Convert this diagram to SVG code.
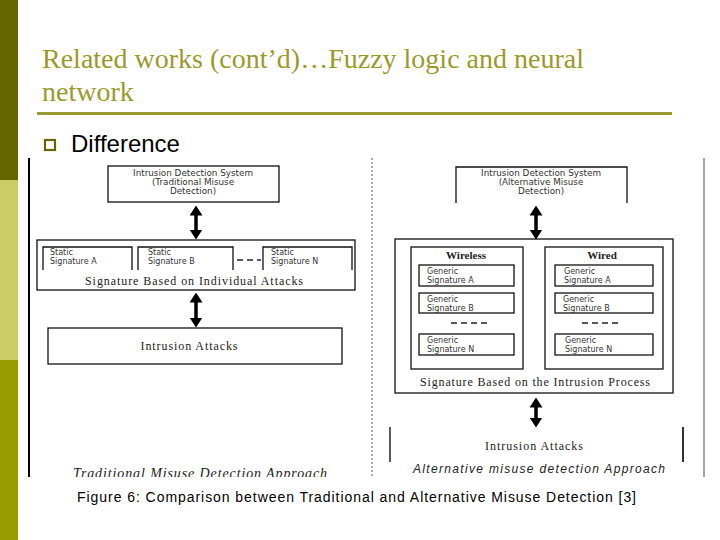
<svg xmlns="http://www.w3.org/2000/svg" width="720" height="540" viewBox="0 0 720 540">
<style>
.box{fill:none;stroke:#111;stroke-width:1.3}
.sm{font-family:"DejaVu Sans",Verdana,sans-serif;font-size:8.8px;fill:#333}
.sg{font-family:"DejaVu Sans",Verdana,sans-serif;font-size:8px;fill:#333}
.sr{font-family:"Liberation Serif","Times New Roman",serif;font-size:12px;fill:#222}
.bd{font-family:"Liberation Serif","Times New Roman",serif;font-size:11px;font-weight:bold;fill:#222}
.ttl{font-family:"Liberation Serif","Times New Roman",serif;font-size:28px;fill:#9a9a2a}
.arr{stroke:#000;stroke-width:3.5;marker-start:url(#ah);marker-end:url(#ah)}
.dash{stroke:#222;stroke-width:1.5;stroke-dasharray:6,4}
</style>
<defs>
<marker id="ah" markerUnits="userSpaceOnUse" markerWidth="10" markerHeight="13" refX="0.5" refY="6.5" orient="auto-start-reverse" viewBox="0 0 10 13">
<path d="M0,0 L10,6.5 L0,13 z" fill="#000"/>
</marker>
<clipPath id="pic"><rect x="20" y="155" width="700" height="322"/></clipPath>
</defs>
<rect width="720" height="540" fill="#fff"/>
<g id="sidebar">
<rect x="0" y="0" width="18" height="180" fill="#666600"/>
<rect x="0" y="180" width="18" height="180" fill="#cccc66"/>
<rect x="0" y="360" width="18" height="180" fill="#999900"/>
</g>
<g id="title">
<text class="ttl" x="42" y="68">Related works (cont’d)…Fuzzy logic and neural</text>
<text class="ttl" x="42" y="101">network</text>
<rect x="37" y="112" width="635" height="3" fill="#9a9a32"/>
</g>
<g id="bullet">
<rect x="45" y="140" width="10" height="10" fill="none" stroke="#666600" stroke-width="2.2"/>
<text x="71" y="152" font-family="Liberation Sans,Arial,sans-serif" font-size="24" fill="#000">Difference</text>
</g>
<g id="figure" clip-path="url(#pic)">
<g id="frame">
<line x1="29" y1="158" x2="29" y2="480" stroke="#000" stroke-width="2"/>
<line x1="704" y1="158" x2="704" y2="480" stroke="#888" stroke-width="1.5"/>
<line x1="372" y1="158" x2="372" y2="480" stroke="#555" stroke-width="1" stroke-dasharray="2,2"/>
</g>
<g id="ids-traditional">
<rect class="box" x="108" y="166" width="171" height="36"/>
<text class="sm" text-anchor="middle" x="193" y="176">Intrusion Detection System</text>
<text class="sm" text-anchor="middle" x="193" y="185">(Traditional Misuse</text>
<text class="sm" text-anchor="middle" x="193" y="194">Detection)</text>
</g>
<g id="sig-individual">
<rect class="box" x="37" y="240" width="318" height="50"/>
<path class="box" d="M43,270 V247 H132 V270 M138,270 V247 H233 V270 M263,270 V247 H352 V270"/>
<line class="dash" x1="237" y1="260" x2="261" y2="260" stroke-dasharray="5,3"/>
<text class="sg" x="50" y="255">Static</text>
<text class="sg" x="50" y="264">Signature A</text>
<text class="sg" x="148" y="255">Static</text>
<text class="sg" x="148" y="264">Signature B</text>
<text class="sg" x="271" y="255">Static</text>
<text class="sg" x="271" y="264">Signature N</text>
<text class="sr" text-anchor="middle" x="194" y="285" textLength="218">Signature Based on Individual Attacks</text>
</g>
<g id="attacks-traditional">
<rect class="box" x="48" y="328" width="294" height="36"/>
<text class="sr" text-anchor="middle" x="189" y="350" font-size="11" textLength="97">Intrusion Attacks</text>
</g>
<g id="caption-traditional">
<text x="200" y="478" text-anchor="middle" font-family="Liberation Serif,serif" font-style="italic" font-size="14" fill="#222" textLength="254">Traditional Misuse Detection Approach</text>
</g>
<g id="ids-alternative">
<path class="box" d="M456,203 V167 H627 V203"/>
<text class="sm" text-anchor="middle" x="541" y="176">Intrusion Detection System</text>
<text class="sm" text-anchor="middle" x="541" y="185">(Alternative Misuse</text>
<text class="sm" text-anchor="middle" x="541" y="194">Detection)</text>
</g>
<g id="sig-process">
<rect class="box" x="395" y="239" width="278" height="154"/>
<text class="sr" text-anchor="middle" x="535" y="386" textLength="230">Signature Based on the Intrusion Process</text>
</g>
<g id="wireless">
<rect class="box" x="411" y="247" width="112" height="122"/>
<text class="bd" text-anchor="middle" x="466" y="259">Wireless</text>
<rect class="box" x="419" y="265" width="95" height="21"/>
<text class="sg" x="427" y="273.5">Generic</text>
<text class="sg" x="427" y="282.5">Signature A</text>
<rect class="box" x="419" y="293" width="95" height="20"/>
<text class="sg" x="427" y="301.5">Generic</text>
<text class="sg" x="427" y="310.5">Signature B</text>
<line class="dash" x1="451" y1="323" x2="488" y2="323"/>
<rect class="box" x="419" y="334" width="95" height="21"/>
<text class="sg" x="427" y="343">Generic</text>
<text class="sg" x="427" y="352">Signature N</text>
</g>
<g id="wired">
<rect class="box" x="545" y="247" width="118" height="122"/>
<text class="bd" text-anchor="middle" x="602" y="259">Wired</text>
<rect class="box" x="555" y="265" width="98" height="21"/>
<text class="sg" x="564" y="273.5">Generic</text>
<text class="sg" x="564" y="282.5">Signature A</text>
<rect class="box" x="555" y="293" width="98" height="20"/>
<text class="sg" x="563" y="301.5">Generic</text>
<text class="sg" x="563" y="310.5">Signature B</text>
<line class="dash" x1="582" y1="323" x2="619" y2="323"/>
<rect class="box" x="555" y="334" width="98" height="21"/>
<text class="sg" x="565" y="343">Generic</text>
<text class="sg" x="565" y="352">Signature N</text>
</g>
<g id="attacks-alternative">
<line x1="390" y1="427" x2="390" y2="462" stroke="#222" stroke-width="1.5"/>
<line x1="683" y1="427" x2="683" y2="462" stroke="#333" stroke-width="2"/>
<text class="sr" text-anchor="middle" x="534" y="450" font-size="11" textLength="98">Intrusion Attacks</text>
</g>
<g id="caption-alternative">
<text x="539" y="473" text-anchor="middle" font-family="Liberation Sans,Arial,sans-serif" font-style="italic" font-size="12" fill="#222" textLength="252">Alternative misuse detection Approach</text>
</g>
<g id="connectors">
<line class="arr" x1="196" y1="215" x2="196" y2="230"/>
<line class="arr" x1="196" y1="302" x2="196" y2="318"/>
<line class="arr" x1="536" y1="215" x2="536" y2="230"/>
<line class="arr" x1="536" y1="407" x2="536" y2="418"/>
</g>
</g>
<g id="figcaption">
<text x="77" y="502" font-family="Liberation Sans,Arial,sans-serif" font-size="14" fill="#000" textLength="559">Figure 6: Comparison between Traditional and Alternative Misuse Detection [3]</text>
</g>
</svg>
